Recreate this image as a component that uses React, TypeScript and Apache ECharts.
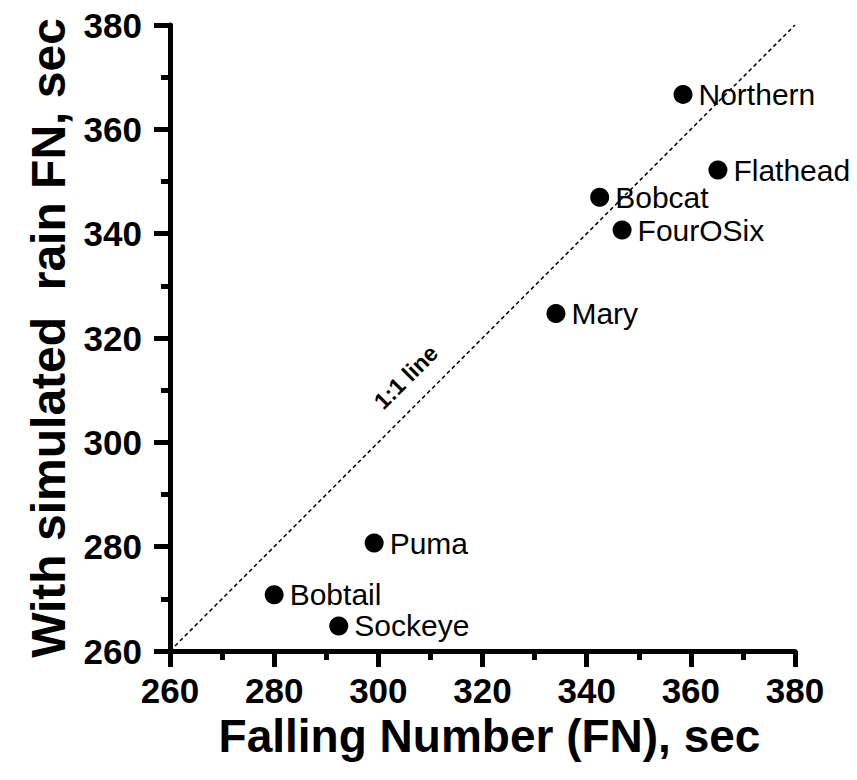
import React, { useEffect, useRef } from "react";
import * as echarts from "echarts";

const cultivars = ["Northern", "Flathead", "Bobcat", "FourOSix", "Mary", "Puma", "Bobtail", "Sockeye"];
const fallingNumber = [358.5, 365.2, 342.5, 346.8, 334.1, 299.2, 280.0, 292.4];
const simulatedRainFN = [366.7, 352.2, 347.0, 340.7, 324.7, 280.7, 270.8, 264.8];
const oneToOneLine = [[260, 260], [380, 380]];
const oneToOneLabelAt = [305.3, 312.5];
const axisTicks = { min: 260, max: 380, interval: 20 };

const FONT = "Liberation Sans, Arial, sans-serif";

export default function App() {
  const ref = useRef<HTMLDivElement>(null);
  useEffect(() => {
    if (!ref.current) return;
    const chart = echarts.init(ref.current, null, { renderer: "svg" });
    const axisCommon = {
      type: "value",
      min: axisTicks.min,
      max: axisTicks.max,
      interval: axisTicks.interval,
      nameLocation: "middle",
      nameTextStyle: { fontFamily: FONT, fontWeight: "bold", fontSize: 46, color: "#000" },
      axisLine: { show: true, onZero: false, lineStyle: { color: "#000", width: 5 } },
      axisTick: { show: true, length: 16, lineStyle: { color: "#000", width: 5 } },
      minorTick: { show: true, splitNumber: 2, length: 9, lineStyle: { color: "#000", width: 5 } },
      splitLine: { show: false },
      minorSplitLine: { show: false },
      axisLabel: { fontFamily: FONT, fontWeight: "bold", fontSize: 35, color: "#000" },
    };
    chart.setOption({
      animation: false,
      backgroundColor: "#fff",
      grid: { left: 170, right: 62, top: 25, bottom: 129, containLabel: false },
      xAxis: {
        ...axisCommon,
        name: "Falling Number (FN), sec",
        nameGap: 62,
        nameTextStyle: { ...axisCommon.nameTextStyle, padding: [0, 0, 0, 14] },
        axisLabel: { ...axisCommon.axisLabel, margin: 22 },
      },
      yAxis: {
        ...axisCommon,
        name: "With simulated\u00a0 rain FN, sec",
        nameGap: 88,
        nameTextStyle: { ...axisCommon.nameTextStyle, fontSize: 48, padding: [0, 0, 0, 0] },
        axisLabel: { ...axisCommon.axisLabel, margin: 28 },
      },
      series: [
        {
          type: "line",
          data: oneToOneLine,
          symbol: "none",
          silent: true,
          lineStyle: { color: "#000", width: 1.5, type: [4, 3] },
          z: 1,
        },
        {
          type: "scatter",
          data: [oneToOneLabelAt],
          symbolSize: 0,
          silent: true,
          itemStyle: { opacity: 1 },
          label: {
            show: true,
            position: "inside",
            formatter: "1:1 line",
            rotate: 45,
            fontFamily: FONT,
            fontWeight: "bold",
            fontSize: 23,
            color: "#000",
          },
        },
        {
          type: "scatter",
          data: fallingNumber.map((x, i) => ({ value: [x, simulatedRainFN[i]], name: cultivars[i] })),
          symbol: "circle",
          symbolSize: 19,
          itemStyle: { color: "#000", opacity: 1 },
          label: {
            show: true,
            position: "right",
            distance: 6,
            formatter: (p: any) => p.name,
            fontFamily: FONT,
            fontSize: 30,
            color: "#000",
          },
          z: 3,
        },
      ],
    });
    return () => chart.dispose();
  }, []);
  return <div ref={ref} style={{ position: "fixed", left: 0, top: 0, width: 857, height: 780 }} />;
}
